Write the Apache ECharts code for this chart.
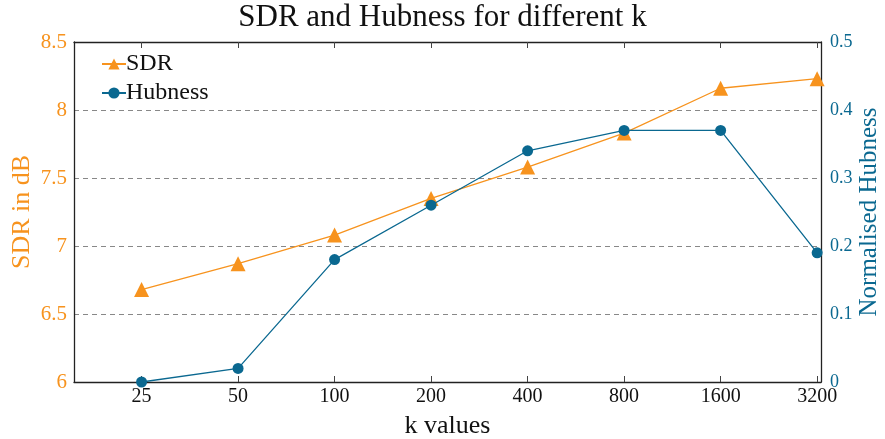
<!DOCTYPE html>
<html>
<head>
<meta charset="utf-8">
<script src="https://cdn.jsdelivr.net/npm/echarts@6/dist/echarts.min.js"></script>
<style>html,body{margin:0;padding:0;background:#fff}#c{width:885px;height:439px}</style>
</head>
<body>
<div id="c"></div>
<script>
const categories = ['25', '50', '100', '200', '400', '800', '1600', '3200'];
const sdrValues = [6.68, 6.87, 7.08, 7.35, 7.58, 7.83, 8.16, 8.23];
const hubnessValues = [0.0, 0.02, 0.18, 0.26, 0.34, 0.37, 0.37, 0.19];
const sdrTicks = [6, 6.5, 7, 7.5, 8, 8.5];
const hubTicks = [0, 0.1, 0.2, 0.3, 0.4, 0.5];

const ORANGE = '#F7931E';
const BLUE = '#0A6890';
const FONT = '"Liberation Serif", "DejaVu Serif", serif';
const idx = categories.map((_, i) => i);

const chart = echarts.init(document.getElementById('c'), null, {renderer: 'canvas'});
chart.setOption({
  animation: false,
  backgroundColor: '#fff',
  textStyle: {fontFamily: FONT},
  title: {
    text: 'SDR and Hubness for different k',
    left: 'center', top: -3,
    textStyle: {fontFamily: FONT, fontSize: 31, fontWeight: 'normal', color: '#111'}
  },
  legend: {
    left: 96, top: 47, orient: 'vertical', itemGap: 5,
    itemWidth: 24, itemHeight: 14,
    textStyle: {fontFamily: FONT, fontSize: 24, color: '#111', padding: [0, 0, 0, -5]},
    data: ['SDR', 'Hubness']
  },
  grid: {left: 74, right: 64, top: 42, bottom: 57, containLabel: false, outerBoundsMode: 'none'},
  xAxis: [{
    type: 'value', min: -0.7, max: 7.04,
    name: 'k values', nameLocation: 'middle', nameGap: 31, nameMoveOverlap: false,
    nameTextStyle: {fontFamily: FONT, fontSize: 26, color: '#111'},
    axisLine: {onZero: false, lineStyle: {color: '#222', width: 1.3}},
    axisTick: {inside: true, length: 6, lineStyle: {color: '#444'}, customValues: idx},
    axisLabel: {customValues: idx, formatter: v => categories[Math.round(v)], fontFamily: FONT, fontSize: 20, color: '#111', margin: 5},
    splitLine: {show: false}
  }, {
    type: 'value', min: -0.7, max: 7.04, position: 'top',
    axisLine: {onZero: false, lineStyle: {color: '#222', width: 1.3}},
    axisTick: {inside: true, length: 6, lineStyle: {color: '#444'}, customValues: idx},
    axisLabel: {show: false},
    splitLine: {show: false}
  }],
  yAxis: [{
    type: 'value', min: sdrTicks[0], max: sdrTicks[sdrTicks.length - 1], interval: 0.5,
    name: 'SDR in dB', nameLocation: 'middle', nameGap: 39, nameMoveOverlap: false,
    nameTextStyle: {fontFamily: FONT, fontSize: 26, color: ORANGE},
    axisLine: {show: true, onZero: false, lineStyle: {color: '#222', width: 1.3}},
    axisTick: {show: false},
    axisLabel: {fontFamily: FONT, fontSize: 21, color: ORANGE, margin: 7, formatter: v => String(v)},
    splitLine: {show: true, lineStyle: {color: '#888', type: [5, 4], width: 1}}
  }, {
    type: 'value', min: hubTicks[0], max: hubTicks[hubTicks.length - 1], interval: 0.1,
    name: 'Normalised Hubness', nameLocation: 'middle', nameGap: 36, nameMoveOverlap: false,
    nameTextStyle: {fontFamily: FONT, fontSize: 25, color: BLUE},
    axisLine: {show: true, onZero: false, lineStyle: {color: '#222', width: 1.3}},
    axisTick: {show: false},
    axisLabel: {fontFamily: FONT, fontSize: 18, color: BLUE, margin: 9, formatter: v => v === 0 ? '0' : v.toFixed(1)},
    splitLine: {show: false}
  }],
  series: [{
    name: 'SDR', type: 'line', yAxisIndex: 0,
    data: sdrValues.map((v, i) => [i, v]),
    symbol: 'triangle', symbolSize: 15,
    lineStyle: {color: ORANGE, width: 1.3},
    itemStyle: {color: ORANGE},
    z: 3
  }, {
    name: 'Hubness', type: 'line', yAxisIndex: 1,
    data: hubnessValues.map((v, i) => [i, v]),
    symbol: 'circle', symbolSize: 11,
    lineStyle: {color: BLUE, width: 1.3},
    itemStyle: {color: BLUE},
    z: 4
  }]
});
</script>
</body>
</html>
